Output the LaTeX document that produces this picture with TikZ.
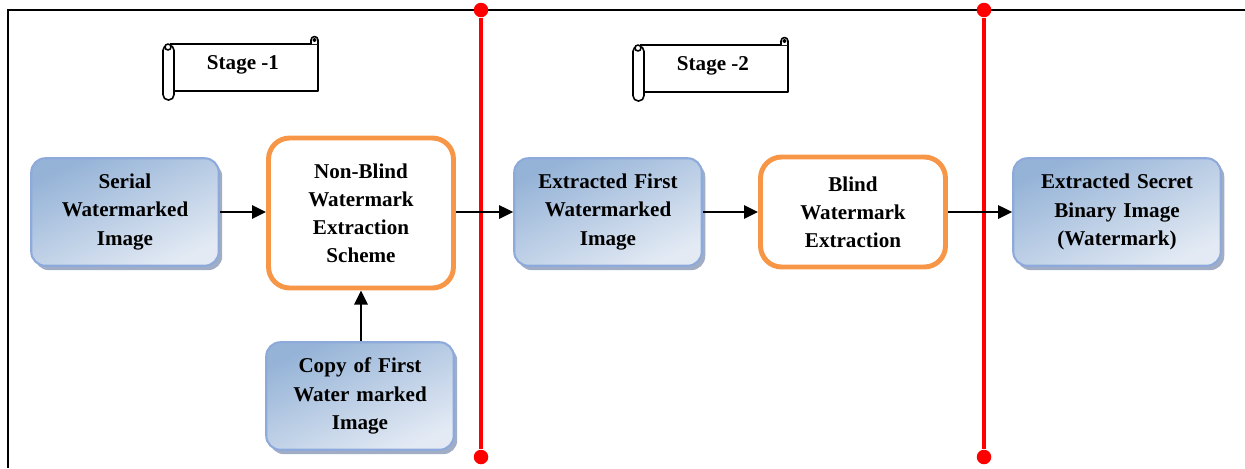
\documentclass[tikz,border=0pt]{standalone}
\usepackage{fontspec}
\setmainfont{Liberation Serif}
\usetikzlibrary{arrows.meta,shadows}
\definecolor{boxdark}{HTML}{95B3D7}
\definecolor{boxlight}{HTML}{E3EAF4}
\definecolor{boxline}{HTML}{8EAADB}
\definecolor{orangeline}{HTML}{F79646}

\begin{document}
\begin{tikzpicture}
[x=0.02cm,y=-0.02cm,
imgbox/.style={rectangle,rounded corners=8pt,draw=boxline,line width=1.2pt, top color=boxdark, bottom color=boxlight, shading angle=25, minimum width=3.75cm, minimum height=2.15cm, text width=3.5cm, align=center, inner sep=0pt, font=\bfseries\fontsize{12}{16}\selectfont,
   drop shadow={shadow xshift=2pt,shadow yshift=-2.5pt,fill=boxline!60!gray,opacity=0.8}},
stepbox/.style={rectangle,rounded corners=12pt,draw=orangeline,line width=2.8pt,fill=white, minimum width=3.7cm, text width=3.3cm, align=center, inner sep=0pt, font=\bfseries\fontsize{12}{16}\selectfont},
classical/.style={line width=1.3pt,-{Triangle[length=8pt,width=7.5pt]},shorten >=0pt,shorten <=0pt},
frame/.style={line width=1.4pt,black},
redline/.style={line width=2.6pt,red},
reddot/.style={circle,fill=red,inner sep=0pt,minimum size=0.29cm},
scroll/.style={line width=0.9pt,fill=white,line join=round}]
\useasboundingbox (0,0) rectangle (1245,468);

% frame
\coordinate (tr) at (1245,10);
\coordinate (bl) at (8,468);
\draw[frame] (tr) -| (bl);

% stage banners
\foreach \sx/\sy/\lbl/\nm in {0/0/{Stage -1}/s1, 470/1/{Stage -2}/s2}{
\begin{scope}[shift={(\sx,\sy)}]
\draw[scroll] (170,44) -- (318,44) -- (318,91) -- (172,91);
\draw[scroll] (311,44) -- (311,40) arc (180:360:3.5) -- (318,44);
\draw[scroll] (314.5,40) circle (1.3);
\draw[scroll,rounded corners=3pt] (163,45) rectangle (174,100);
\draw[scroll] (168,47) circle (3);
\node[font=\bfseries\fontsize{12}{16}\selectfont] (\nm) at (243,65) {\lbl};
\end{scope}}

% first row
\node[imgbox] (serial) at (125,212) {Serial\\ Watermarked\\ Image};
\node[stepbox,minimum height=3cm] (nonblind) at (361,213) {Non-Blind\\ Watermark\\ Extraction\\ Scheme};
\node[imgbox] (exfirst) at (608,212) {Extracted First\\ Watermarked\\ Image};
\node[stepbox,minimum height=2.2cm] (blind) at (853,212) {Blind\\ Watermark\\ Extraction};
\node[imgbox,minimum width=4.15cm,text width=3.95cm] (exsecret) at (1117,212) {Extracted Secret\\ Binary Image\\ (Watermark)};

% second row
\node[imgbox] (copy) at (360,396) {Copy of First\\ Water marked\\ Image};

% stage separators
\node[reddot] (r1t) at (481,10) {};
\node[reddot] (r1b) at (481,457) {};
\node[reddot] (r2t) at (984,10) {};
\node[reddot] (r2b) at (984,457) {};
\draw[redline] (r1t) -- (r1b);
\draw[redline] (r2t) -- (r2b);

\draw[classical] (serial.east) -- (serial.east -| nonblind.west);
\draw[classical] (nonblind.east |- exfirst.west) -- (exfirst.west);
\draw[classical] (exfirst.east) -- (exfirst.east -| blind.west);
\draw[classical] (blind.east) -- (exsecret.west);
\draw[classical] (copy.north -| nonblind.south) -- (nonblind.south);

\end{tikzpicture}
\end{document}
